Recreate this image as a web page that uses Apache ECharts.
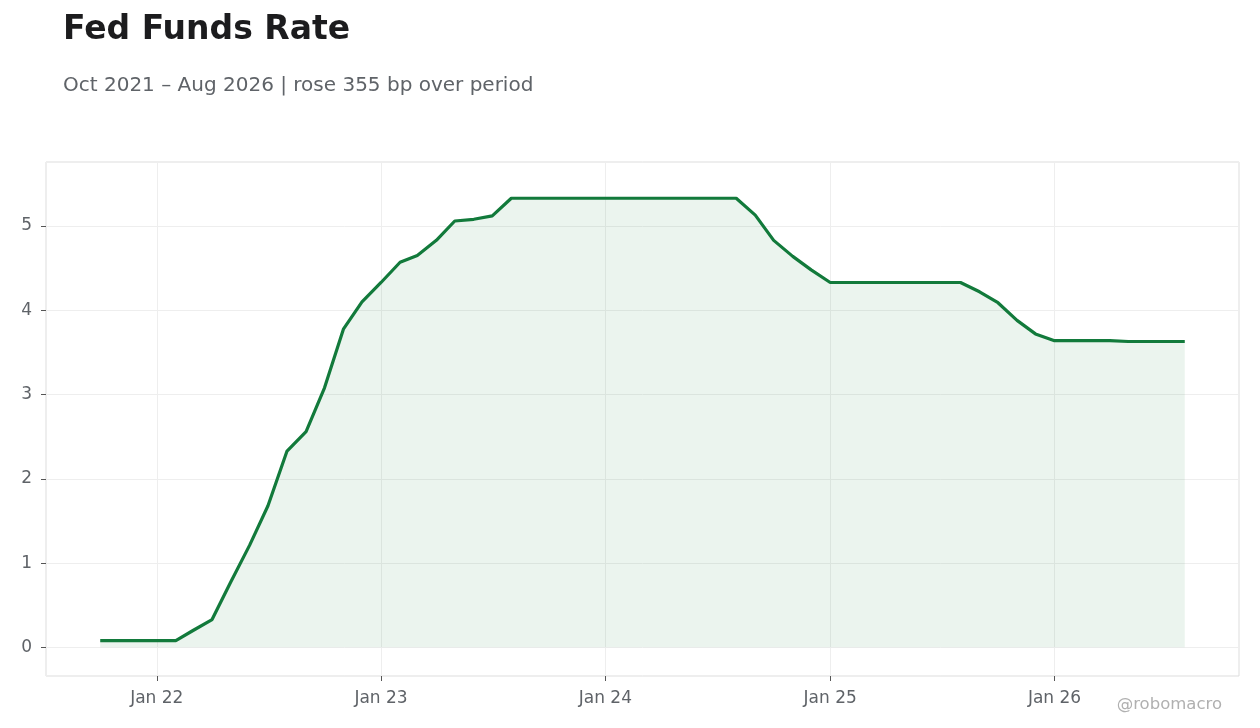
<!DOCTYPE html>
<html lang="en">
<head>
    <meta charset="UTF-8">
    <title>Fed Funds Rate</title>
    <script src="https://cdn.jsdelivr.net/npm/echarts@6/dist/echarts.min.js"></script>
    <style>
        html, body { margin: 0; padding: 0; background: #fff; }
        #chart { width: 1260px; height: 728px; }
    </style>
</head>
<body>
    <div id="chart"></div>
    <script>
        // monthly effective fed funds rate, Oct 2021 - Aug 2026
        var startYear = 2021;
        var startMonth = 9; // October (0-based)
        var rates = [
            0.08, 0.08, 0.08,                                     // Oct-Dec 2021
            0.08, 0.08, 0.20, 0.33, 0.77, 1.21, 1.68, 2.33, 2.56, 3.08, 3.78, 4.10, // 2022
            4.33, 4.57, 4.65, 4.83, 5.06, 5.08, 5.12, 5.33, 5.33, 5.33, 5.33, 5.33, // 2023
            5.33, 5.33, 5.33, 5.33, 5.33, 5.33, 5.33, 5.33, 5.13, 4.83, 4.64, 4.48, // 2024
            4.33, 4.33, 4.33, 4.33, 4.33, 4.33, 4.33, 4.33, 4.22, 4.09, 3.88, 3.72, // 2025
            3.64, 3.64, 3.64, 3.64, 3.63, 3.63, 3.63, 3.63        // Jan-Aug 2026
        ];
        var yTicks = [0, 1, 2, 3, 4, 5];
        var monthNames = ['Jan', 'Feb', 'Mar', 'Apr', 'May', 'Jun', 'Jul', 'Aug', 'Sep', 'Oct', 'Nov', 'Dec'];

        var data = [];
        for (var i = 0; i < rates.length; i++) {
            var d = new Date(startYear, startMonth + i, 1);
            data.push([d.getTime(), rates[i]]);
        }
        var first = data[0][0];
        var last = data[data.length - 1][0];
        var pad = (last - first) * 0.05;

        var myChart = echarts.init(document.getElementById('chart'));
        var option = {
            backgroundColor: '#ffffff',
            textStyle: { fontFamily: 'DejaVu Sans' },
            title: [{
                text: 'Fed Funds Rate',
                left: 63,
                top: 14,
                padding: 0,
                textStyle: { fontSize: 33, fontWeight: 'bold', color: '#1c1c1e', fontFamily: 'DejaVu Sans' }
            }, {
                text: 'Oct 2021 \u2013 Aug 2026 | rose 355 bp over period',
                left: 63,
                top: 76,
                padding: 0,
                textStyle: { fontSize: 20, fontWeight: 'normal', color: '#5f6368', fontFamily: 'DejaVu Sans' }
            }],
            graphic: [{
                type: 'text',
                right: 38,
                top: 696,
                style: { text: '@robomacro', fill: '#b0b0b0', fontSize: 16.5, fontFamily: 'DejaVu Sans' }
            }],
            grid: {
                left: 46,
                right: 21,
                top: 162,
                bottom: 52,
                show: true,
                borderColor: '#dddddd',
                borderWidth: 1
            },
            xAxis: {
                type: 'time',
                min: first - pad,
                max: last + pad,
                splitNumber: 5,
                axisLine: { show: false, onZero: false },
                axisTick: { show: true, length: 5, lineStyle: { color: '#555555' } },
                axisLabel: {
                    color: '#5f6368',
                    fontSize: 17,
                    margin: 14,
                    showMinLabel: false,
                    showMaxLabel: false,
                    formatter: function (val) {
                        var d = new Date(val);
                        return monthNames[d.getMonth()] + ' ' + String(d.getFullYear()).slice(2);
                    }
                },
                splitLine: { show: true, lineStyle: { color: '#eeeeee', width: 1 } }
            },
            yAxis: {
                type: 'value',
                min: -0.34,
                max: 5.76,
                axisLine: { show: false },
                axisTick: { show: true, length: 5, lineStyle: { color: '#555555' } },
                axisLabel: {
                    color: '#5f6368',
                    fontSize: 17,
                    margin: 14,
                    showMinLabel: false,
                    showMaxLabel: false,
                    formatter: function (v) {
                        return yTicks.indexOf(v) >= 0 ? String(v) : '';
                    }
                },
                splitLine: { show: true, lineStyle: { color: '#eeeeee', width: 1 } }
            },
            series: [{
                name: 'Fed Funds Rate',
                type: 'line',
                data: data,
                symbol: 'none',
                lineStyle: { color: '#127a3b', width: 3.2 },
                itemStyle: { color: '#127a3b' },
                areaStyle: { color: 'rgba(18,122,59,0.085)', opacity: 1, origin: 0 }
            }]
        };
        myChart.setOption(option);
    </script>
</body>
</html>
